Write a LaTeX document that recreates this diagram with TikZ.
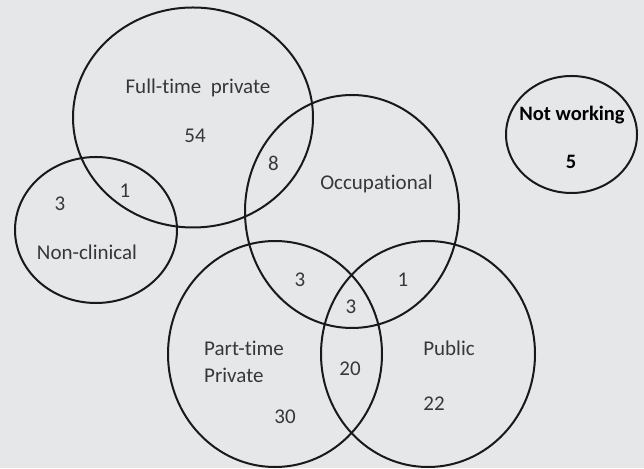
\documentclass[tikz,border=0pt]{standalone}
\usepackage{fontspec}
\setmainfont[Ligatures=NoCommon]{Carlito}
\usetikzlibrary{shapes.geometric}
\definecolor{bggray}{RGB}{230,231,233}
\definecolor{txtgray}{RGB}{55,55,55}
\begin{document}
\begin{tikzpicture}
[
    x=1pt, y=1pt,
    set/.style={draw=black!90, ellipse, line width=2pt, inner sep=0pt},
    lbl/.style={text=txtgray, font=\fontsize{21}{23}\selectfont, inner sep=0pt},
    nwlbl/.style={text=black, font=\bfseries\fontsize{20.5}{23}\selectfont, inner sep=0pt}
]
    \fill[bggray] (0,0) rectangle (644,468);
    \useasboundingbox (0,0) rectangle (644,468);

    % the sets
    \node [set, minimum width=240pt, minimum height=220pt] (fulltime) at (193,350.5) {};
    \node [set, minimum width=162pt, minimum height=146pt] (nonclin) at (96,238) {};
    \node [set, minimum width=214pt, minimum height=233pt] (occup) at (352,256.5) {};
    \node [set, minimum width=214pt, minimum height=226pt] (parttime) at (275,114) {};
    \node [set, minimum width=214pt, minimum height=226pt] (public) at (428,114) {};
    \node [set, minimum width=131pt, minimum height=117pt] (notwork) at (571.5,333.5) {};

    % names of the sets
    \node [lbl] (fulltimename) at (198,380) {Full-time~ private};
    \node [lbl] (nonclinname) at (87,216) {Non-clinical};
    \node [lbl] (occupname) at (376.5,284) {Occupational};
    \node [lbl, align=left, anchor=west] (parttimename) at (204,106.5) {Part-time\\[4pt]Private};
    \node [lbl] (publicname) at (449,120) {Public};
    \node [nwlbl] (notworkname) at (572,353) {Not~working};

    % counts
    \node [lbl] (nft) at (195,332) {54};
    \node [lbl] (nftocc) at (273.5,305) {8};
    \node [lbl] (nftnc) at (125,277) {1};
    \node [lbl] (nnc) at (60,264) {3};
    \node [lbl] (noccpt) at (300,188) {3};
    \node [lbl] (noccpub) at (403,188) {1};
    \node [lbl] (nall) at (351,161) {3};
    \node [lbl] (nptpub) at (350,99) {20};
    \node [lbl] (npub) at (434,64) {22};
    \node [lbl] (npt) at (285,51) {30};
    \node [nwlbl] (nnw) at (571,306) {5};
\end{tikzpicture}
\end{document}
